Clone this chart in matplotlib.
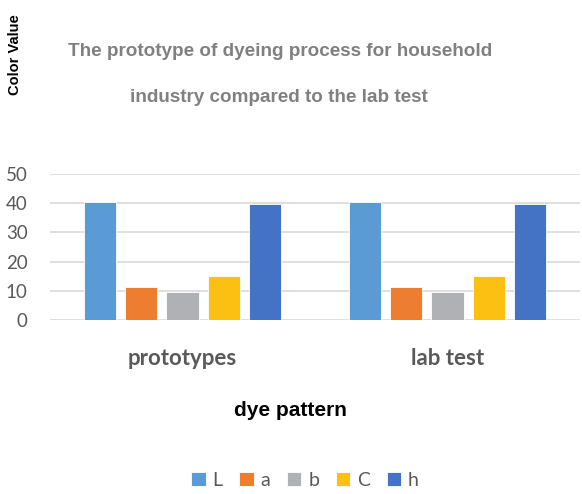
import numpy as np
import matplotlib.pyplot as plt

groups = ['prototypes', 'lab test']
series = ['L', 'a', 'b', 'C', 'h']
L = [40.4, 40.4]
a = [11.4, 11.4]
b = [9.6, 9.6]
C = [15.0, 15.0]
h = [39.8, 39.8]
values = [L, a, b, C, h]
colors = ['#5b9bd5', '#ed7d31', '#b0b1b4', '#fcc013', '#4472c4']

fig = plt.figure(figsize=(5.82, 4.94), dpi=100)
ax = fig.add_axes([50 / 582, 1 - 320 / 494, 530 / 582, 146 / 494])

x = np.arange(len(groups))
step = 0.155
width = 0.121
for i, (name, vals) in enumerate(zip(series, values)):
    ax.bar(x + (i - 2) * step, vals, width, color=colors[i], label=name,
           edgecolor='white', linewidth=0.6, zorder=3)

ax.set_xlim(-0.5, 1.5)
ax.set_ylim(0, 50)
ax.set_yticks(range(0, 51, 10))
ax.grid(axis='y', color='#d9d9d9', linewidth=1.2, zorder=0)
for s in ax.spines.values():
    s.set_visible(False)
ax.tick_params(length=0)
ax.tick_params(axis='y', labelsize=13.5, labelcolor='#595959', pad=16)
for lab in ax.get_yticklabels():
    lab.set_fontfamily('Lato')
ax.set_xticks(x)
ax.set_xticklabels(groups, fontsize=16, fontweight='bold', color='#595959',
                   fontfamily='Lato')
ax.tick_params(axis='x', pad=20)

fig.text(0.481, 1 - 52 / 494, 'The prototype of dyeing process for household',
         ha='center', va='center', fontsize=13.6, fontweight='bold',
         color='#808080', fontfamily='Liberation Sans')
fig.text(0.479, 1 - 97 / 494, 'industry compared to the lab test',
         ha='center', va='center', fontsize=13.6, fontweight='bold',
         color='#808080', fontfamily='Liberation Sans')
fig.text(15 / 582, 1 - 55 / 494, 'Color Value', rotation=90, ha='center',
         va='center', fontsize=10.5, fontweight='bold', color='black',
         fontfamily='Liberation Sans')
fig.text(290 / 582, 1 - 410 / 494, 'dye pattern', ha='center', va='center',
         fontsize=15, fontweight='bold', color='black',
         fontfamily='Liberation Sans')

leg = fig.legend(loc='center', bbox_to_anchor=(305 / 582, 1 - 480 / 494), ncol=5,
                 frameon=False, handlelength=0.75, handleheight=0.75,
                 handletextpad=0.35, columnspacing=0.85,
                 prop={'family': 'Lato', 'size': 14})
for t in leg.get_texts():
    t.set_color('#595959')

fig.savefig('out.png', dpi=100)
